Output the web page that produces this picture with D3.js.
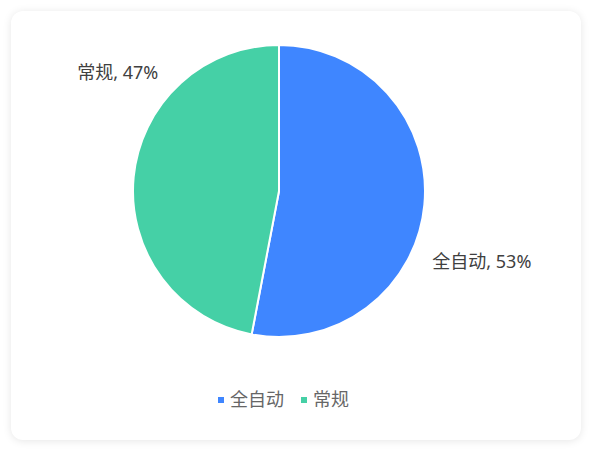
<!DOCTYPE html>
<html>
<head>
<meta charset="utf-8">
<script src="https://cdn.jsdelivr.net/npm/d3@7"></script>
<style>
  html, body { margin: 0; padding: 0; background: #fff; }
  #card { position: absolute; left: 11px; top: 11px; width: 570px; height: 429px;
    background: #fff; border-radius: 12px; box-shadow: 0 1px 8px rgba(0,0,0,.10); }
  svg { position: absolute; left: 0; top: 0; }
  text { font-family: "Noto Sans", "Noto Sans CJK SC", sans-serif; }
</style>
</head>
<body>
<div id="card"></div>
<svg id="chart" width="592" height="451"></svg>
<script>
const categories = ['全自动', '常规'];
const values = [53, 47];
const colors = ['#3f86ff', '#45d0a6'];

const W = 592, H = 451, cx = 279, cy = 191, R = 146;
// label placement nudges (degrees added to slice mid angle), radius of label anchor
const labelNudge = [19.5, 39], labelR = 169;

const svg = d3.select('#chart');
const pie = d3.pie().sort(null).value(d => d.v);
const arcs = pie(categories.map((c, i) => ({ c, v: values[i], col: colors[i] })));
const arc = d3.arc().innerRadius(0).outerRadius(R);

const g = svg.append('g').attr('transform', `translate(${cx},${cy})`);
g.selectAll('path').data(arcs).join('path')
  .attr('d', arc).attr('fill', d => d.data.col)
  .attr('stroke', '#fff').attr('stroke-width', 2).attr('stroke-linejoin', 'round');

g.selectAll('text.lbl').data(arcs).join('text').attr('class', 'lbl')
  .each(function (d, i) {
    const a = (d.startAngle + d.endAngle) / 2 + labelNudge[i] * Math.PI / 180;
    const x = Math.sin(a) * labelR, y = -Math.cos(a) * labelR;
    d3.select(this).attr('x', x).attr('y', y).attr('dy', '0.35em')
      .attr('text-anchor', x >= 0 ? 'start' : 'end');
  })
  .attr('font-size', 18).attr('fill', '#404040')
  .text(d => `${d.data.c}, ${d.data.v}%`);

// legend
const leg = svg.append('g').attr('transform', 'translate(218,400)');
let lx = 0;
categories.forEach((c, i) => {
  const it = leg.append('g').attr('transform', `translate(${lx},0)`);
  it.append('rect').attr('x', 0).attr('y', -3).attr('width', 6).attr('height', 6).attr('fill', colors[i]);
  const t = it.append('text').attr('x', 12).attr('dy', '0.35em').attr('font-size', 18)
    .attr('fill', '#666').text(c);
  lx += 12 + t.node().getComputedTextLength() + 17;
});
</script>
</body>
</html>
